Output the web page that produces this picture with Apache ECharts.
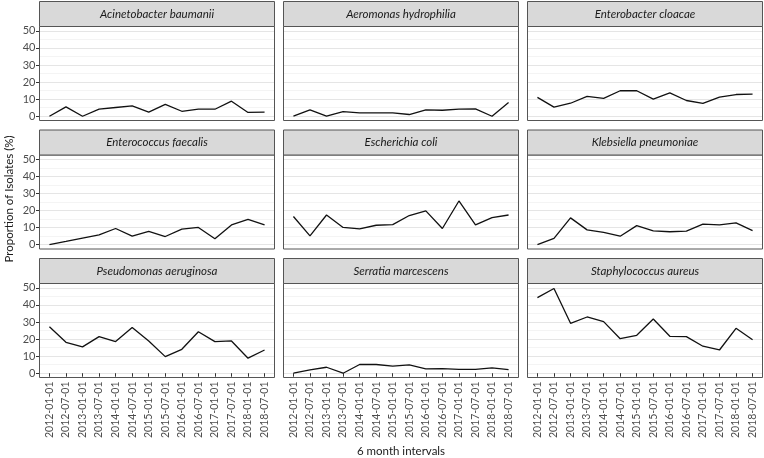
<!DOCTYPE html>
<html>
<head>
<meta charset="utf-8">
<script src="https://cdn.jsdelivr.net/npm/echarts@6/dist/echarts.min.js"></script>
<style>html,body{margin:0;padding:0;background:#fff}#c{width:764px;height:458px}</style>
</head>
<body>
<div id="c"></div>
<script>
const dates = ['2012-01-01','2012-07-01','2013-01-01','2013-07-01','2014-01-01','2014-07-01','2015-01-01','2015-07-01','2016-01-01','2016-07-01','2017-01-01','2017-07-01','2018-01-01','2018-07-01'];
const organisms = ['Acinetobacter baumanii','Aeromonas hydrophilia','Enterobacter cloacae','Enterococcus faecalis','Escherichia coli','Klebsiella pneumoniae','Pseudomonas aeruginosa','Serratia marcescens','Staphylococcus aureus'];
const acinetobacter = [0, 5.5, 0, 4.1, 5.1, 6.1, 2.4, 6.9, 2.9, 4.1, 4.1, 8.8, 2.2, 2.4];
const aeromonas = [0, 3.7, 0, 2.7, 2.0, 2.0, 2.0, 1.0, 3.7, 3.5, 4.2, 4.3, 0, 8.0];
const enterobacter = [11.0, 5.3, 7.6, 11.6, 10.4, 14.9, 14.9, 10.0, 13.7, 9.2, 7.5, 11.2, 12.7, 12.9];
const enterococcus = [0, 1.9, 3.9, 5.8, 9.5, 5.0, 7.8, 4.8, 9.1, 10.1, 3.5, 11.6, 14.9, 11.6];
const ecoli = [16.5, 5.2, 17.4, 10.1, 9.3, 11.4, 11.8, 17.1, 19.8, 9.5, 25.6, 11.6, 15.9, 17.4];
const klebsiella = [0, 3.7, 15.7, 8.7, 7.2, 5.0, 11.2, 8.1, 7.6, 8.0, 12.0, 11.6, 12.8, 8.3];
const pseudomonas = [27.2, 18.1, 15.4, 21.4, 18.5, 26.7, 18.9, 9.7, 14.0, 24.3, 18.5, 18.9, 8.8, 13.6];
const serratia = [0, 1.9, 3.5, 0, 5.1, 5.1, 4.1, 4.9, 2.5, 2.7, 2.3, 2.3, 3.1, 2.1];
const staphylococcus = [44.2, 49.6, 29.2, 32.9, 30.2, 20.2, 22.2, 31.7, 21.6, 21.4, 15.8, 13.6, 26.3, 19.6];
const yMin = 0, yMax = 50, yStep = 10;
const yTitle = 'Proportion of Isolates (%)';
const xTitle = '6 month intervals';

const seriesData = [acinetobacter, aeromonas, enterobacter, enterococcus, ecoli, klebsiella, pseudomonas, serratia, staphylococcus];

const FONT = 'Lato';
const colLeft = [39.5, 283.5, 527.5];
const panelTopArr = [26.5, 155, 283.5];
const stripH = 25;
const pW = 235, pH = 94;
const nCat = dates.length;
const xExp = pW / (nCat - 1 + 1.2) * 0.6;
const yExp = pH / ((yMax - yMin) * 1.1) * (yMax - yMin) * 0.05;

const grids = [], xAxes = [], yAxes = [], series = [], graphics = [];
seriesData.forEach((vals, i) => {
  const r = Math.floor(i / 3), c = i % 3;
  const L = colLeft[c], T = panelTopArr[r];
  grids.push({left: L, top: T + yExp, width: pW, height: pH - 2 * yExp, show: false});
  const bg = grids.length - 1;
  xAxes.push({gridIndex: bg, type: 'value', show: false, min: 0, max: 1});
  yAxes.push({gridIndex: bg, type: 'value', min: yMin, max: yMax, interval: yStep,
    axisLine: {show: false}, axisTick: {show: false}, axisLabel: {show: false},
    splitLine: {show: true, lineStyle: {color: '#e5e5e5', width: 1.2}},
    minorTick: {show: false, splitNumber: 2},
    minorSplitLine: {show: true, lineStyle: {color: '#f1f1f1', width: 0.8}}});
  grids.push({left: L + xExp, top: T + yExp, width: pW - 2 * xExp, height: pH - 2 * yExp, show: false});
  const g = grids.length - 1;
  xAxes.push({gridIndex: g, type: 'category', data: dates, boundaryGap: false, offset: yExp,
    axisLine: {show: false},
    axisTick: {show: r === 2, interval: 0, length: 3.5, lineStyle: {color: '#333', width: 1}},
    axisLabel: {show: r === 2, interval: 0, rotate: 90, margin: 4, fontSize: 10.5, color: '#4d4d4d', fontFamily: FONT},
    splitLine: {show: false}});
  yAxes.push({gridIndex: g, type: 'value', min: yMin, max: yMax, interval: yStep, offset: xExp,
    axisLine: {show: false},
    axisTick: {show: c === 0, length: 3.5, lineStyle: {color: '#333', width: 1}},
    axisLabel: {show: c === 0, margin: 4, fontSize: 11, color: '#4d4d4d', fontFamily: FONT},
    splitLine: {show: false}});
  series.push({type: 'line', xAxisIndex: xAxes.length - 1, yAxisIndex: yAxes.length - 1,
    data: vals, symbol: 'none', lineStyle: {color: '#111', width: 1.3}, z: 3, animation: false});
  graphics.push({type: 'rect', shape: {x: L, y: T, width: pW, height: pH}, z: 100,
    style: {fill: 'none', stroke: '#555', lineWidth: 1}});
  graphics.push({type: 'rect', shape: {x: L, y: T - stripH, width: pW, height: stripH}, z: 100,
    style: {fill: '#d9d9d9', stroke: '#555', lineWidth: 1}});
  graphics.push({type: 'text', x: L + pW / 2, y: T - stripH / 2, z: 101,
    style: {text: organisms[i], fill: '#1a1a1a', font: 'italic 11.5px "' + FONT + '"', textAlign: 'center', textVerticalAlign: 'middle'}});
});
graphics.push({type: 'text', x: 9, y: 199, rotation: Math.PI / 2, z: 101,
  style: {text: yTitle, fill: '#1a1a1a', font: '11.5px "' + FONT + '"', textAlign: 'center', textVerticalAlign: 'middle'}});
graphics.push({type: 'text', x: 401, y: 451, z: 101,
  style: {text: xTitle, fill: '#1a1a1a', font: '11.5px "' + FONT + '"', textAlign: 'center', textVerticalAlign: 'middle'}});

const chart = echarts.init(document.getElementById('c'), null, {renderer: 'canvas'});
chart.setOption({animation: false, backgroundColor: '#fff', grid: grids, xAxis: xAxes, yAxis: yAxes, series: series, graphic: graphics});
</script>
</body>
</html>
